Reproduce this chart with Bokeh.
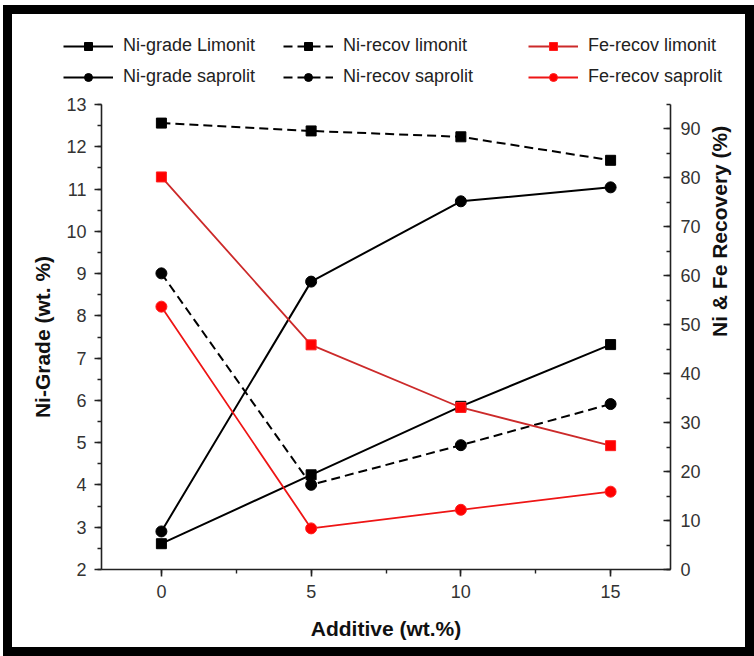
import math
from bokeh.plotting import figure
from bokeh.layouts import column
from bokeh.models import Range1d, LinearAxis, SingleIntervalTicker, Legend, LegendItem, ColumnDataSource
from bokeh.embed import file_html
from bokeh.resources import INLINE

# ---- data ----
additive = [0, 5, 10, 15]
ni_grade_limonit = [2.61, 4.24, 5.86, 7.32]
ni_grade_saprolit = [2.90, 8.81, 10.71, 11.04]
ni_recov_limonit = [91.2, 89.6, 88.4, 83.6]
ni_recov_saprolit = [60.5, 17.3, 25.4, 33.8]
fe_recov_limonit = [80.2, 45.9, 33.1, 25.3]
fe_recov_saprolit = [53.7, 8.4, 12.2, 15.9]

series_labels = ["Ni-grade Limonit", "Ni-grade saprolit",
                 "Ni-recov limonit", "Ni-recov saprolit",
                 "Fe-recov limonit", "Fe-recov saprolit"]

FONT = "Liberation Sans"
CW = 733          # canvas width
LEG_H = 76        # legend strip height
MAIN_H = 557      # main figure height

RED_L = "#cc2a2a"
RED_S = "#ee1515"

styles_def = [
    dict(color="black", dash="solid", marker="square", fill="black", mline="black", size=10),
    dict(color="black", dash="solid", marker="circle", fill="black", mline="black", size=11),
    dict(color="black", dash="9 5", marker="square", fill="black", mline="black", size=10),
    dict(color="black", dash="9 5", marker="circle", fill="black", mline="black", size=11),
    dict(color=RED_L, dash="solid", marker="square", fill="#ff0000", mline="#ff2020", size=10),
    dict(color=RED_S, dash="solid", marker="circle", fill="#ff0000", mline="#ff2020", size=11),
]

# ---------------- main chart ----------------
p = figure(width=CW, height=MAIN_H, output_backend="svg", toolbar_location=None,
           x_range=Range1d(-2, 17), y_range=Range1d(2, 13),
           min_border_left=89, min_border_right=67, min_border_top=14, min_border_bottom=78,
           x_axis_label="Additive (wt.%)", y_axis_label="Ni-Grade (wt. %)")
p.extra_y_ranges = {"rec": Range1d(0, 95)}
p.grid.visible = False
p.outline_line_color = None

p.xaxis.ticker = SingleIntervalTicker(interval=5, num_minor_ticks=2)
p.yaxis.ticker = SingleIntervalTicker(interval=1, num_minor_ticks=2)
right = LinearAxis(y_range_name="rec", axis_label="Ni & Fe Recovery (%)",
                   ticker=SingleIntervalTicker(interval=10, num_minor_ticks=2))
p.add_layout(right, "right")

for ax in p.axis:
    ax.axis_line_color = "#222222"
    ax.axis_line_width = 1.6
    ax.major_tick_line_color = "#222222"
    ax.major_tick_line_width = 1.6
    ax.minor_tick_line_color = "#222222"
    ax.minor_tick_line_width = 1.4
    ax.major_tick_out = 7
    ax.major_tick_in = 0
    ax.minor_tick_out = 4
    ax.minor_tick_in = 0
    ax.major_label_text_font = FONT
    ax.major_label_text_font_size = "18px"
    ax.major_label_text_color = "#333333"
    ax.axis_label_text_font = FONT
    ax.axis_label_text_font_size = "21px"
    ax.axis_label_text_font_style = "bold"
    ax.axis_label_text_color = "#111111"

right.major_tick_out = 0
right.major_tick_in = 7
right.minor_tick_out = 0
right.minor_tick_in = 4
right.major_label_standoff = 10
right.axis_label_standoff = 16
if "axis_label_orientation" in LinearAxis.properties():
    right.axis_label_orientation = math.pi / 2
p.yaxis[0].major_label_standoff = 8
p.yaxis[0].axis_label_standoff = 9
p.xaxis.major_label_standoff = 8
p.xaxis.axis_label_standoff = 16

ys = [ni_grade_limonit, ni_grade_saprolit, ni_recov_limonit,
      ni_recov_saprolit, fe_recov_limonit, fe_recov_saprolit]
ranges = ["default", "default", "rec", "rec", "rec", "rec"]
for yv, rn, st in zip(ys, ranges, styles_def):
    p.line(additive, yv, y_range_name=rn, line_color=st["color"],
           line_width=2 if st["color"] == "black" else 1.8, line_dash=st["dash"])
    p.scatter(additive, yv, y_range_name=rn, marker=st["marker"], size=st["size"],
              fill_color=st["fill"], line_color=st["mline"])

# ---------------- legend strip ----------------
lg = figure(width=CW, height=LEG_H, output_backend="svg", toolbar_location=None,
            x_axis_type=None, y_axis_type=None, x_range=Range1d(0, 1), y_range=Range1d(0, 1),
            min_border_left=0, min_border_right=0, min_border_top=0, min_border_bottom=0)
lg.grid.visible = False
lg.outline_line_color = None

aligned = True
if "frame_align" in lg.properties():
    lg.frame_align = False
    p.frame_align = False
    aligned = False

items = []
for lab, st in zip(series_labels, styles_def):
    # off-screen sample points so the legend has something to draw
    src = ColumnDataSource(dict(x=[-10, -11], y=[-10, -11]))
    r1 = lg.line("x", "y", source=src, line_color=st["color"],
                 line_width=2 if st["color"] == "black" else 1.8, line_dash=st["dash"])
    r2 = lg.scatter("x", "y", source=src, marker=st["marker"], size=st["size"],
                    fill_color=st["fill"], line_color=st["mline"])
    items.append(LegendItem(label=lab, renderers=[r1, r2]))

xs = [-38, 182, 427] if aligned else [51, 271, 516]
for i, x in enumerate(xs):
    leg = Legend(items=items[2 * i:2 * i + 2], location=(x, 3), orientation="vertical",
                 glyph_width=50, glyph_height=20, label_height=20, spacing=10,
                 label_standoff=10, padding=0, margin=0,
                 border_line_color=None, background_fill_alpha=0,
                 label_text_font=FONT, label_text_font_size="18px",
                 label_text_color="#222222")
    lg.add_layout(leg, "center")

layout = column(lg, p, spacing=0,
                styles={"border": "9px solid black", "box-sizing": "content-box",
                        "margin-left": "3px", "margin-top": "5px"})

open("out.html", "w").write(file_html(layout, INLINE))
